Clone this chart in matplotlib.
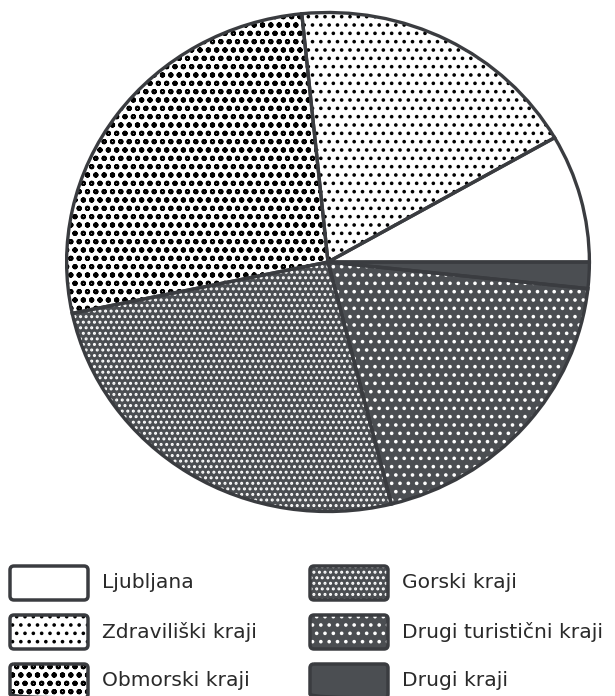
"""Pie chart of tourist nights by type of place (recreated)."""
import matplotlib
matplotlib.use("Agg")
import matplotlib.pyplot as plt
from matplotlib.patches import FancyBboxPatch

W, H, DPI = 615, 696, 100

LABELS = ["Ljubljana", "Zdraviliški kraji", "Obmorski kraji",
          "Gorski kraji", "Drugi turistični kraji", "Drugi kraji"]
SHARES = [8.3, 18.3, 26.7, 25.6, 19.4, 1.7]

DARK = "#4b4e52"
EDGE = "#3a3c40"
FACES = ["white", "white", "white", DARK, DARK, DARK]
HATCH_COLORS = ["white", "black", "black", "white", "white", DARK]
HATCHES = ["", "..", "oo", "...", "..", ""]

plt.rcParams["hatch.linewidth"] = 1.4
plt.rcParams["font.family"] = ["DejaVu Sans"]

fig = plt.figure(figsize=(W / DPI, H / DPI), dpi=DPI)

# pie: slightly wider than tall, like the scanned original
cx, cy, rx, ry = 328, 262, 264, 252
ax = fig.add_axes([(cx - rx) / W, 1 - (cy + ry) / H, 2 * rx / W, 2 * ry / H])
wedges, _ = ax.pie(SHARES, startangle=0, counterclock=True, radius=1.0,
                   colors=FACES, wedgeprops=dict(linewidth=0))
for w, hc, h in zip(wedges, HATCH_COLORS, HATCHES):
    w.set_edgecolor(hc)
    w.set_hatch(h)
    w.set_linewidth(0)
ax.pie(SHARES, startangle=0, counterclock=True, radius=1.0,
       wedgeprops=dict(fill=False, edgecolor=EDGE, linewidth=2.4))
ax.set_xlim(-1.01, 1.01)
ax.set_ylim(-1.01, 1.01)
ax.set_aspect("auto")

# legend drawn in pixel coordinates over the whole figure
lax = fig.add_axes([0, 0, 1, 1])
lax.set_xlim(0, W)
lax.set_ylim(H, 0)
lax.axis("off")

col_x = [10, 310]
row_y = [583, 632, 681]
box_w, box_h = 78, 34
for i, lab in enumerate(LABELS):
    col, row = divmod(i, 3)
    x0, yc = col_x[col], row_y[row]
    box = FancyBboxPatch((x0 + 4, yc - box_h / 2 + 4), box_w - 8, box_h - 8,
                         boxstyle="round,pad=4,rounding_size=4",
                         facecolor=FACES[i], edgecolor=HATCH_COLORS[i],
                         hatch=HATCHES[i], linewidth=0)
    lax.add_patch(box)
    outline = FancyBboxPatch((x0 + 4, yc - box_h / 2 + 4), box_w - 8, box_h - 8,
                             boxstyle="round,pad=4,rounding_size=4",
                             fill=False, edgecolor=EDGE, linewidth=2.5)
    lax.add_patch(outline)
    lax.text(x0 + box_w + 14, yc, lab, fontsize=14.6, color="#2a2a2a",
             va="center", ha="left")

fig.savefig("out.png", dpi=DPI, facecolor="white")
